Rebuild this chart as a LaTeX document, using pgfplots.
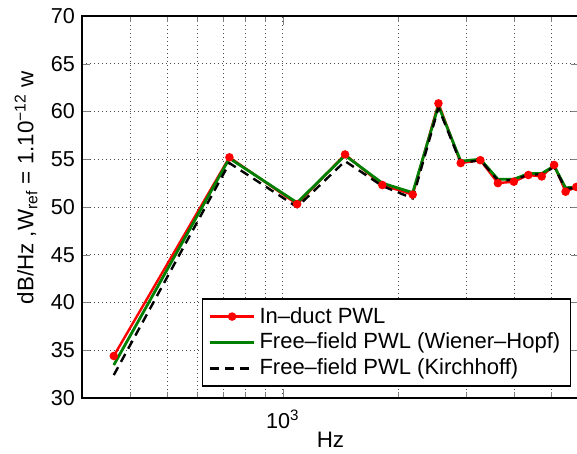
\documentclass[border=0pt]{standalone}
\usepackage{pgfplots}
\pgfplotsset{compat=1.18}
\usepackage{pgfplotstable}
\usepackage{fontspec}
\setmainfont{Liberation Sans}
\definecolor{mgreen}{rgb}{0,0.5,0}

\pgfplotstableread{
f     red    green  black
363   34.4   33.45  32.4
726   55.2   55.1   54.6
1089  50.3   50.45  50.0
1452  55.5   55.4   54.8
1815  52.3   52.5   52.2
2178  51.3   51.5   50.9
2541  60.85  60.6   60.4
2904  54.6   54.8   54.6
3267  54.9   55.0   54.9
3630  52.5   52.9   52.8
3993  52.65  52.9   52.8
4356  53.35  53.5   53.4
4719  53.2   53.5   53.4
5082  54.4   54.3   54.2
5445  51.6   52.0   51.9
5808  52.1   52.1   52.0
}\datatable

\begin{document}
\begin{tikzpicture}
\begin{axis}[
  xmode=log,
  scale only axis,
  width=248.5pt, height=191pt,
  xmin=300, xmax=5900, ymin=30, ymax=70,
  xtick={1000}, xticklabels={10\textsuperscript{3}},
  minor xtick={400,500,600,700,800,900,2000,3000,4000,5000},
  ytick={30,35,...,70},
  grid=both,
  major grid style={gray!60!black, line width=0.45pt, dash pattern=on 0.5pt off 1.5pt},
  minor grid style={gray!60!black, line width=0.45pt, dash pattern=on 0.5pt off 1.5pt},
  axis line style={line width=0.8pt},
  /pgf/number format/assume math mode=true,
  tick label style={font=\fontsize{10.8}{13}\selectfont},
  xticklabel style={yshift=-2.5pt},
  label style={font=\fontsize{11.2}{13.4}\selectfont},
  xlabel={Hz},
  ylabel={dB/Hz ,W\textsubscript{ref} = 1.10\textsuperscript{−12} w},
  xlabel style={at={(axis description cs:0.5,-0.11)}, anchor=center},
  ylabel style={at={(axis description cs:-0.1127,0.55)}, anchor=center},
  legend cell align=left,
  legend style={at={(axis cs:5620,31.2)}, anchor=south east, draw=black,
    line width=0.6pt, font=\fontsize{11}{13.2}\selectfont, row sep=-0.5pt},
  legend image code/.code={\draw[mark repeat=2,mark phase=2,#1] plot coordinates {(0pt,0pt) (11pt,0pt) (22pt,0pt)};},
]
\addplot[red, line width=1.2pt, mark=*, mark size=1.5pt, mark options={solid}] table[x=f, y=red] {\datatable};
\addlegendentry{In–duct PWL}
\addplot[mgreen, line width=1.4pt] table[x=f, y=green] {\datatable};
\addlegendentry{Free–field PWL (Wiener–Hopf)}
\addplot[black, line width=1.2pt, dash pattern=on 4.5pt off 3pt] table[x=f, y=black] {\datatable};
\addlegendentry{Free–field PWL (Kirchhoff)}
\coordinate (BL) at (rel axis cs:0,0);
\coordinate (TR) at (axis cs:5831,70);
\end{axis}
\pgfresetboundingbox
\path[use as bounding box] ([xshift=-41pt,yshift=-28pt]BL) rectangle ([yshift=8pt]TR);
\end{tikzpicture}
\end{document}
